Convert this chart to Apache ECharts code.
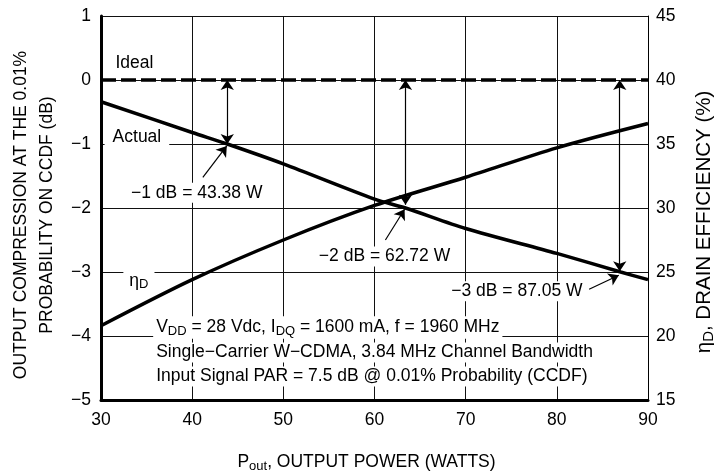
<!DOCTYPE html>
<html>
<head>
<meta charset="utf-8">
<script src="https://cdn.jsdelivr.net/npm/echarts@6/dist/echarts.min.js"></script>
<style>
html,body{margin:0;padding:0;background:#fff;}
#chart{width:721px;height:476px;}
</style>
</head>
<body>
<div id="chart"></div>
<script>
// ---- data ----
const compPowerW   = [30, 40, 43.85, 50, 60, 63.4, 70, 80, 87, 90];
const compressionDb = [-0.34, -0.82, -1.0, -1.31, -1.86, -2.0, -2.32, -2.71, -3.0, -3.12];
const effPowerW    = [30, 40, 50, 60, 70, 80, 90];
const efficiencyPct = [20.8, 24.4, 27.5, 30.2, 32.4, 34.7, 36.6];
const idealPowerW  = [30, 90];
const idealDb      = [0, 0];
const xTicks = [30, 40, 50, 60, 70, 80, 90];
const leftTicks = [1, 0, -1, -2, -3, -4, -5];
const rightTicks = [45, 40, 35, 30, 25, 20, 15];
const markers = [ // compression points (W, dB)
  [43.85, -1], [63.4, -2], [86.9, -3]
];
const markerTop = [0, 0, 0];
const markerEnd = [-1, -1.95, -2.99];

const FONT = "'Liberation Sans', Arial, sans-serif";
const FS = 17.5;
const txt = {color:'#000', fontFamily: FONT, fontSize: FS};
function richFor(size){
  return {
    t:{fontFamily:FONT, fontSize:size, color:'#000', lineHeight:size+3},
    s:{fontFamily:FONT, fontSize:Math.round(size*0.72), color:'#000', lineHeight:12, verticalAlign:'bottom'}
  };
}
const richSub = richFor(FS);

function pairs(xs, ys){ return xs.map((x,i)=>[x, ys[i]]); }

function textPoint(x, y, formatter, opts){
  return Object.assign({
    coord:[x,y], symbolSize:1, itemStyle:{color:'rgba(0,0,0,0)'},
    label:Object.assign({show:true, position:'inside', formatter:formatter,
      color:'#000', fontFamily:FONT, fontSize:FS, backgroundColor:'#fff', padding:[1,6],
      rich:richSub}, opts||{})
  });
}

const chart = echarts.init(document.getElementById('chart'), null, {renderer:'canvas'});
const option = {
  animation:false,
  backgroundColor:'#fff',
  grid:{left:101, right:73, top:16, bottom:76, containLabel:false, outerBoundsMode:'none'},
  xAxis:{
    type:'value', min:30, max:90, interval:10,
    name:'{t|P}{s|out}{t|, OUTPUT POWER (WATTS)}',
    nameLocation:'middle', nameGap:52,
    nameTextStyle:Object.assign({}, txt, {rich:richSub, padding:[0,16,0,0]}),
    axisLine:{show:true, onZero:false, lineStyle:{color:'#000', width:3}},
    axisTick:{show:false},
    axisLabel:Object.assign({}, txt, {margin:11, formatter:v=>xTicks.includes(v)?String(v):''}),
    splitLine:{show:true, lineStyle:{color:'#111', width:1}}
  },
  yAxis:[
    {
      type:'value', min:-5, max:1, interval:1, position:'left',
      name:'OUTPUT COMPRESSION AT THE 0.01%\nPROBABILITY ON CCDF (dB)',
      nameLocation:'middle', nameRotate:90, nameGap:40,
      nameTextStyle:Object.assign({}, txt, {lineHeight:26, padding:[0,14,0,0]}),
      axisLine:{show:true, onZero:false, lineStyle:{color:'#000', width:3}},
      axisTick:{show:false},
      axisLabel:Object.assign({}, txt, {margin:10,
        formatter:v=>leftTicks.includes(v)?String(v).replace('-', '\u2212'):''}),
      splitLine:{show:true, lineStyle:{color:'#111', width:1}}
    },
    {
      type:'value', min:15, max:45, interval:5, position:'right',
      name:'{t|\u03b7}{s|D}{t|, DRAIN EFFICIENCY (%)}',
      nameLocation:'middle', nameRotate:90, nameGap:45,
      nameTextStyle:Object.assign({}, txt, {fontSize:20.5, rich:richFor(20.5), padding:[0,28,0,0]}),
      axisLine:{show:true, lineStyle:{color:'#000', width:1}},
      axisTick:{show:false},
      axisLabel:Object.assign({}, txt, {margin:8, formatter:v=>rightTicks.includes(v)?String(v):''}),
      splitLine:{show:false}
    }
  ],
  series:[
    {
      name:'Actual', type:'line', yAxisIndex:0, data:pairs(compPowerW, compressionDb),
      showSymbol:false, symbol:'none', smooth:0.3, z:5,
      lineStyle:{color:'#000', width:3.5}
    },
    {
      name:'Efficiency', type:'line', yAxisIndex:1, data:pairs(effPowerW, efficiencyPct),
      showSymbol:false, symbol:'none', smooth:0.3, z:5,
      lineStyle:{color:'#000', width:3.5}
    },
    {
      name:'Ideal', type:'line', yAxisIndex:0, data:pairs(idealPowerW, idealDb),
      showSymbol:false, symbol:'none', z:6,
      lineStyle:{color:'#000', width:3.5, type:[15,5]},
      markLine:{
        silent:true, symbol:['arrow','arrow'], symbolSize:10,
        label:{show:false},
        lineStyle:{color:'#000', width:1.2, type:'solid'},
        data:[
          [{coord:[markers[0][0], markerTop[0]]}, {coord:[markers[0][0], markerEnd[0]]}],
          [{coord:[markers[1][0], markerTop[1]]}, {coord:[markers[1][0], markerEnd[1]]}],
          [{coord:[markers[2][0], markerTop[2]]}, {coord:[markers[2][0], markerEnd[2]]}],
          [{coord:[41.17, -1.52], symbol:'none'}, {coord:[markers[0][0]-0.05, markers[0][1]-0.03]}],
          [{coord:[61.2, -2.5], symbol:'none'}, {coord:[markers[1][0]-0.1, markers[1][1]-0.02]}],
          [{coord:[83.54, -3.27], symbol:'none'}, {coord:[markers[2][0]-0.1, markers[2][1]-0.05]}]
        ]
      },
      markPoint:{
        silent:true,
        data:[
          textPoint(33.67, 0.25, 'Ideal', {backgroundColor:'transparent'}),
          textPoint(33.94, -0.906, 'Actual', {padding:[1,8]}),
          textPoint(40.5, -1.77, '\u22121 dB = 43.38 W'),
          textPoint(61.1, -2.766, '\u22122 dB = 62.72 W'),
          textPoint(75.62, -3.31, '\u22123 dB = 87.05 W'),
          textPoint(34.16, -3.15, '{t|\u03b7}{s|D}', {padding:[0,6]}),
          textPoint(35.69, -3.875, '{t|V}{s|DD}{t| = 28 Vdc, I}{s|DQ}{t| = 1600 mA, f = 1960 MHz}', {position:'right', distance:0, padding:[1,3]}),
          textPoint(35.69, -4.266, 'Single\u2212Carrier W\u2212CDMA, 3.84 MHz Channel Bandwidth', {position:'right', distance:0, padding:[1,3]}),
          textPoint(35.69, -4.64, 'Input Signal PAR = 7.5 dB @ 0.01% Probability (CCDF)', {position:'right', distance:0, padding:[1,3]})
        ]
      }
    }
  ]
};
chart.setOption(option);
</script>
</body>
</html>
